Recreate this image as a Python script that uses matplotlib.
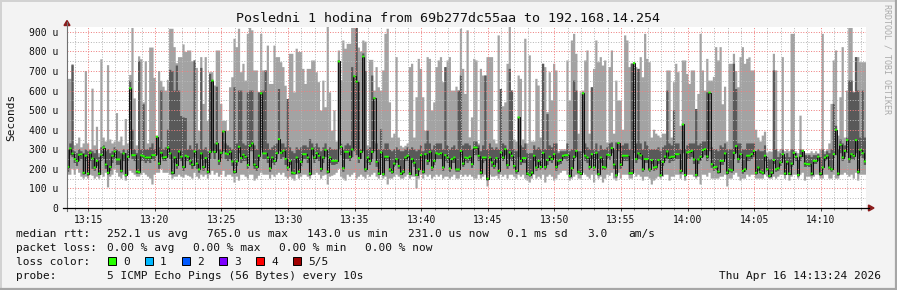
import numpy as np
import matplotlib
matplotlib.use("Agg")
from matplotlib import pyplot as plt
from matplotlib.patches import Polygon, Rectangle
from matplotlib.lines import Line2D

W, H = 897, 290

title = "Posledni 1 hodina from 69b277dc55aa to 192.168.14.254"
start_min = 13 * 60 + 13 + 24 / 60.0   # 13:13:24, first round
step_min = 10 / 60.0                   # 5 pings every 10 s

xtick_min = [795, 800, 805, 810, 815, 820, 825, 830, 835, 840, 845, 850]
xtick_labels = ["13:15", "13:20", "13:25", "13:30", "13:35", "13:40",
                "13:45", "13:50", "13:55", "14:00", "14:05", "14:10"]
ytick_vals = [0, 100, 200, 300, 400, 500, 600, 700, 800, 900]
ytick_labels = ["0", "100 u", "200 u", "300 u", "400 u", "500 u",
                "600 u", "700 u", "800 u", "900 u"]

# rtt per round in microseconds
median_us = [
    210, 304, 278, 250, 241, 272, 275, 180, 267, 176, 282, 253, 207, 241, 176,
    272, 309, 222, 180, 210, 267, 289, 248, 248, 190, 279, 169, 262, 612, 270,
    270, 186, 183, 269, 265, 258, 258, 258, 270, 270, 364, 227, 282, 258, 260,
    309, 279, 181, 258, 219, 289, 262, 210, 267, 262, 241, 222, 289, 227, 197,
    279, 210, 255, 185, 287, 651, 287, 330, 241, 282, 391, 279, 275, 287, 238,
    185, 238, 313, 255, 272, 262, 219, 318, 330, 222, 210, 267, 586, 279, 279,
    258, 202, 258, 241, 280, 352, 282, 292, 251, 207, 241, 181, 178, 258, 186,
    236, 275, 275, 258, 176, 303, 258, 280, 267, 200, 258, 297, 186, 258, 241,
    241, 241, 749, 313, 203, 287, 287, 262, 299, 673, 646, 255, 287, 774, 198,
    258, 241, 287, 561, 236, 176, 284, 173, 262, 262, 198, 185, 227, 250, 215,
    176, 186, 258, 267, 176, 250, 231, 169, 198, 270, 186, 275, 241, 287, 207,
    241, 280, 275, 280, 207, 270, 258, 202, 250, 258, 197, 197, 292, 227, 258,
    255, 262, 224, 309, 309, 267, 181, 258, 258, 150, 258, 233, 215, 255, 190,
    284, 258, 301, 219, 284, 267, 215, 190, 463, 241, 255, 255, 176, 169, 181,
    267, 207, 241, 210, 282, 210, 245, 262, 250, 275, 210, 241, 245, 267, 270,
    270, 164, 203, 262, 292, 185, 176, 586, 267, 258, 210, 275, 207, 282, 173,
    258, 210, 207, 272, 270, 306, 222, 167, 332, 222, 267, 267, 267, 178, 178,
    740, 250, 279, 269, 197, 250, 250, 197, 245, 207, 210, 245, 167, 236, 263,
    289, 258, 262, 262, 275, 275, 190, 427, 169, 284, 287, 292, 248, 169, 248,
    262, 296, 301, 263, 590, 224, 207, 210, 186, 241, 241, 279, 181, 197, 193,
    282, 316, 250, 275, 190, 198, 267, 267, 275, 292, 180, 207, 186, 180, 267,
    198, 164, 181, 245, 198, 203, 233, 275, 176, 236, 176, 227, 282, 262, 169,
    267, 292, 227, 224, 224, 176, 241, 241, 262, 176, 207, 258, 267, 207, 198,
    275, 400, 176, 323, 258, 292, 347, 250, 275, 267, 347, 185, 297, 280, 238,
]
max_us = [
    660, 660, 735, 320, 330, 360, 310, 330, 700, 330, 300, 610, 320, 415, 280,
    760, 360, 340, 730, 350, 330, 340, 485, 340, 365, 320, 455, 330, 680, 920,
    560, 320, 775, 760, 540, 750, 330, 820, 820, 665, 370, 700, 650, 620, 600,
    655, 916, 916, 822, 740, 771, 771, 836, 797, 805, 805, 750, 754, 716, 395,
    771, 532, 771, 445, 694, 694, 626, 805, 805, 532, 445, 445, 395, 617, 668,
    865, 822, 916, 694, 737, 651, 890, 920, 908, 703, 703, 591, 890, 703, 703,
    830, 634, 634, 830, 771, 771, 745, 720, 625, 557, 788, 788, 591, 814, 797,
    797, 711, 634, 711, 711, 754, 754, 694, 643, 498, 651, 515, 925, 591, 395,
    498, 340, 805, 651, 856, 814, 839, 839, 920, 920, 920, 820, 800, 856, 850,
    320, 757, 757, 600, 720, 617, 600, 703, 890, 916, 540, 360, 380, 771, 360,
    318, 310, 318, 330, 720, 737, 360, 566, 762, 711, 566, 395, 771, 762, 498,
    540, 720, 754, 771, 643, 720, 754, 771, 600, 600, 620, 600, 916, 711, 583,
    908, 361, 463, 762, 754, 330, 711, 677, 677, 771, 771, 771, 350, 330, 882,
    608, 520, 540, 737, 925, 600, 350, 340, 677, 660, 350, 865, 330, 780, 340,
    340, 660, 626, 360, 737, 720, 490, 694, 550, 737, 703, 290, 300, 300, 300,
    754, 549, 856, 890, 788, 380, 591, 600, 754, 805, 380, 617, 711, 856, 745,
    771, 728, 754, 335, 720, 805, 380, 651, 549, 549, 400, 882, 856, 720, 740,
    745, 720, 711, 771, 668, 890, 762, 745, 360, 400, 380, 370, 360, 380, 380,
    703, 703, 360, 643, 737, 694, 420, 754, 754, 685, 634, 703, 703, 506, 583,
    890, 703, 600, 762, 651, 651, 670, 822, 754, 822, 530, 620, 340, 737, 737,
    788, 700, 617, 771, 822, 737, 762, 770, 703, 703, 400, 360, 340, 370, 390,
    284, 290, 288, 788, 703, 290, 300, 771, 290, 300, 290, 890, 890, 290, 280,
    472, 300, 280, 280, 280, 290, 280, 290, 280, 300, 890, 290, 300, 330, 532,
    754, 805, 370, 566, 822, 360, 600, 920, 920, 591, 771, 771, 745, 745, 745,
]
# 4th of 5 sorted pings
p4_us = [
    300, 330, 730, 290, 280, 300, 290, 280, 300, 290, 295, 290, 280, 300, 260,
    310, 320, 290, 300, 280, 290, 310, 300, 290, 280, 300, 280, 300, 650, 400,
    300, 280, 750, 300, 530, 300, 300, 310, 330, 300, 365, 310, 600, 300, 310,
    400, 706, 700, 600, 728, 600, 470, 463, 460, 300, 320, 300, 754, 330, 300,
    716, 300, 310, 290, 685, 655, 330, 620, 300, 300, 391, 330, 320, 310, 300,
    617, 330, 600, 600, 330, 320, 590, 600, 600, 320, 300, 591, 600, 600, 703,
    330, 300, 310, 320, 330, 608, 330, 330, 310, 557, 310, 290, 280, 310, 300,
    310, 320, 320, 310, 352, 330, 310, 330, 310, 290, 310, 330, 300, 310, 300,
    300, 300, 754, 330, 300, 320, 330, 320, 720, 677, 920, 650, 300, 790, 700,
    300, 310, 677, 565, 330, 300, 403, 300, 330, 330, 300, 290, 300, 310, 300,
    290, 290, 300, 310, 300, 310, 300, 290, 300, 320, 290, 330, 395, 330, 300,
    320, 330, 330, 330, 300, 720, 320, 300, 310, 320, 300, 600, 677, 320, 330,
    330, 320, 300, 340, 340, 320, 290, 320, 677, 300, 330, 310, 300, 310, 300,
    608, 330, 320, 300, 711, 600, 300, 290, 463, 320, 310, 330, 280, 280, 280,
    320, 300, 310, 300, 737, 300, 480, 320, 310, 330, 330, 280, 290, 290, 290,
    330, 290, 300, 651, 600, 290, 290, 591, 330, 310, 300, 617, 300, 330, 290,
    320, 300, 300, 310, 330, 335, 300, 335, 335, 320, 320, 330, 330, 300, 737,
    740, 330, 711, 330, 300, 340, 320, 300, 300, 300, 300, 310, 290, 310, 320,
    600, 330, 320, 500, 330, 330, 300, 429, 300, 320, 330, 330, 330, 506, 320,
    330, 340, 340, 591, 591, 310, 300, 300, 290, 320, 310, 330, 300, 300, 300,
    737, 608, 330, 330, 300, 300, 330, 330, 330, 330, 290, 300, 290, 290, 320,
    260, 250, 250, 703, 300, 260, 280, 300, 260, 280, 260, 300, 300, 280, 250,
    300, 295, 270, 270, 270, 260, 270, 270, 275, 260, 300, 275, 290, 280, 300,
    532, 420, 300, 350, 330, 320, 360, 651, 651, 591, 771, 600, 360, 600, 360,
]
# 2nd of 5 sorted pings
p2_us = [
    185, 270, 260, 230, 215, 240, 250, 170, 240, 165, 240, 200, 190, 215, 170,
    240, 250, 200, 170, 190, 230, 250, 220, 220, 180, 240, 160, 240, 300, 250,
    240, 175, 175, 240, 240, 230, 240, 230, 250, 240, 270, 200, 260, 240, 240,
    260, 250, 170, 230, 200, 250, 240, 190, 240, 240, 220, 200, 260, 200, 180,
    250, 190, 230, 175, 250, 290, 250, 290, 220, 250, 290, 250, 240, 250, 215,
    175, 215, 280, 230, 240, 240, 200, 290, 290, 200, 190, 240, 300, 250, 250,
    230, 185, 230, 220, 250, 290, 250, 260, 220, 190, 220, 170, 170, 230, 175,
    210, 250, 250, 230, 165, 270, 230, 250, 240, 185, 230, 260, 175, 230, 220,
    220, 225, 300, 270, 185, 250, 250, 240, 260, 290, 270, 230, 250, 290, 185,
    230, 220, 250, 290, 210, 170, 250, 165, 240, 240, 185, 175, 210, 230, 200,
    170, 175, 240, 240, 170, 230, 210, 165, 185, 240, 175, 250, 220, 250, 190,
    220, 250, 250, 250, 190, 240, 230, 185, 230, 230, 185, 185, 260, 210, 240,
    230, 240, 205, 270, 270, 240, 170, 230, 240, 140, 240, 210, 200, 230, 175,
    250, 240, 270, 200, 250, 240, 200, 175, 260, 220, 230, 230, 170, 160, 170,
    240, 190, 220, 195, 250, 195, 220, 240, 230, 250, 190, 220, 225, 250, 250,
    240, 155, 190, 240, 260, 175, 170, 280, 240, 230, 195, 250, 190, 250, 165,
    230, 195, 195, 250, 245, 280, 200, 155, 290, 200, 240, 240, 240, 170, 170,
    280, 230, 250, 245, 185, 230, 230, 185, 225, 190, 195, 225, 160, 215, 240,
    250, 230, 240, 240, 250, 250, 175, 280, 160, 250, 250, 260, 225, 160, 225,
    240, 260, 270, 240, 290, 205, 190, 195, 175, 220, 220, 250, 170, 185, 180,
    250, 280, 230, 250, 175, 185, 240, 240, 250, 260, 170, 190, 175, 170, 240,
    185, 155, 170, 225, 185, 190, 215, 250, 170, 220, 170, 210, 250, 240, 160,
    240, 260, 210, 210, 210, 165, 225, 225, 240, 165, 195, 240, 245, 195, 185,
    250, 270, 165, 280, 240, 260, 280, 230, 250, 245, 280, 175, 265, 255, 220,
]
min_us = [
    170, 170, 200, 170, 200, 180, 160, 150, 160, 150, 170, 165, 150, 160, 150,
    170, 160, 180, 105, 160, 170, 200, 180, 160, 150, 170, 140, 170, 190, 180,
    170, 160, 160, 170, 180, 170, 160, 150, 120, 170, 180, 180, 200, 180, 180,
    180, 170, 150, 160, 160, 170, 160, 155, 170, 165, 160, 150, 180, 160, 150,
    170, 160, 170, 150, 170, 190, 170, 180, 160, 170, 190, 160, 170, 170, 160,
    130, 160, 140, 170, 170, 160, 150, 170, 170, 140, 150, 165, 180, 170, 170,
    170, 150, 170, 160, 170, 180, 170, 180, 160, 150, 160, 150, 140, 170, 150,
    160, 170, 170, 160, 150, 170, 170, 180, 170, 150, 165, 170, 120, 160, 165,
    170, 180, 200, 160, 150, 140, 170, 160, 170, 180, 150, 160, 170, 160, 150,
    170, 160, 170, 180, 160, 150, 170, 150, 160, 120, 150, 150, 160, 170, 160,
    150, 150, 160, 170, 150, 160, 160, 100, 150, 170, 150, 170, 160, 170, 150,
    160, 170, 160, 170, 150, 160, 160, 150, 160, 170, 150, 150, 170, 160, 170,
    160, 170, 160, 150, 150, 170, 150, 160, 170, 110, 170, 160, 160, 165, 150,
    170, 160, 170, 150, 170, 170, 160, 150, 170, 160, 170, 150, 140, 130, 150,
    170, 150, 160, 150, 170, 130, 160, 170, 160, 140, 150, 170, 180, 190, 190,
    170, 140, 150, 160, 170, 150, 150, 180, 170, 160, 150, 170, 130, 170, 150,
    160, 130, 150, 170, 165, 180, 150, 140, 180, 150, 170, 170, 170, 150, 150,
    180, 160, 170, 160, 140, 160, 160, 150, 120, 140, 150, 160, 150, 160, 170,
    170, 140, 160, 160, 170, 170, 150, 170, 140, 170, 170, 170, 160, 150, 160,
    120, 170, 170, 160, 180, 150, 150, 150, 150, 160, 160, 170, 110, 150, 150,
    170, 180, 160, 140, 150, 150, 170, 160, 170, 170, 150, 150, 150, 150, 170,
    160, 150, 150, 160, 150, 160, 170, 170, 150, 170, 140, 160, 170, 170, 150,
    170, 180, 140, 160, 160, 150, 160, 170, 170, 150, 150, 170, 170, 150, 150,
    170, 150, 150, 170, 170, 180, 170, 160, 170, 150, 180, 140, 170, 170, 170,
]

loss_labels = ["0", "1", "2", "3", "4", "5/5"]
loss_colors = ["#26ff00", "#00b8ff", "#0059ff", "#7e00ff", "#ff0000", "#a00000"]

MONO = "DejaVu Sans Mono"


def fx(x):
    return x / W


def fy(y):
    return 1 - y / H


fig = plt.figure(figsize=(W / 100, H / 100), dpi=100, facecolor="#f3f3f3")
ax = fig.add_axes([fx(67), fy(208), (866 - 67) / W, (208 - 27) / H])
ax.set_facecolor("white")

n = len(median_us)
edges = start_min + step_min * np.arange(n + 1)
med = np.array(median_us, dtype=float)

# smoke: light = min..max, dark = 2nd..4th ping
ax.stairs(max_us, edges, baseline=min_us, fill=True, color="#a3a3a3", lw=0, zorder=1)
ax.stairs(p4_us, edges, baseline=p2_us, fill=True, color="#595959", lw=0, zorder=1.1)

# median line + loss colour marks
ax.stairs(med, edges, baseline=None, color="#111111", lw=0.75, zorder=3)
ax.stairs(med + 5, edges, baseline=med - 5, fill=True, color=loss_colors[0], lw=0, zorder=3.1)

ax.set_xlim(edges[0], edges[-1])
ax.set_ylim(0, 925)

ax.set_xticks(xtick_min)
ax.set_xticklabels(xtick_labels)
ax.set_xticks(np.arange(794, 854, 1), minor=True)
ax.set_yticks(ytick_vals)
ax.set_yticklabels(ytick_labels)
ax.set_yticks(np.arange(50, 925, 100), minor=True)

ax.set_axisbelow(False)
ax.grid(True, which="major", color="#ee8080", lw=0.72, linestyle=(0, (1, 1.6)), zorder=2.5)
ax.grid(True, which="minor", color="#b8b8b8", lw=0.72, linestyle=(0, (1, 1.6)), zorder=2.4)

for lab in ax.get_xticklabels() + ax.get_yticklabels():
    lab.set_fontfamily(MONO)
    lab.set_fontsize(7)
    lab.set_color("#111111")
ax.tick_params(axis="x", which="major", length=2.5, width=0.7, color="#444444", pad=2.5)
ax.tick_params(axis="x", which="minor", length=1.5, width=0.7, color="#888888")
ax.tick_params(axis="y", which="both", length=0, pad=6.5)

for s in ax.spines.values():
    s.set_visible(False)

# axes with arrow heads, drawn like rrdtool does
fig.add_artist(Line2D([fx(67), fx(67)], [fy(22), fy(211)], color="#707070", lw=0.8))
fig.add_artist(Line2D([fx(63), fx(869)], [fy(208), fy(208)], color="black", lw=0.9))
fig.add_artist(Polygon([(fx(67), fy(20.5)), (fx(64), fy(25.5)), (fx(70), fy(25.5))],
                       closed=True, color="#8b1c1c", transform=fig.transFigure))
fig.add_artist(Polygon([(fx(874), fy(208)), (fx(868.5), fy(205)), (fx(868.5), fy(211))],
                       closed=True, color="#8b1c1c", transform=fig.transFigure))

# title and side texts
fig.text(fx(448), fy(19), title, ha="center", va="center", fontsize=9.6,
         family=MONO, color="#111111")
fig.text(fx(11), fy(117), "Seconds", rotation=90, ha="center", va="center",
         fontsize=8, family=MONO, color="#111111")
fig.text(fx(887), fy(4), "RRDTOOL / TOBI OETIKER", rotation=270, ha="center",
         va="top", fontsize=6, family=MONO, color="#aaaaaa")

# legend
legend_rows = [
    (237, [(16, "median rtt:"), (107, "252.1 us avg"), (207, "765.0 us max"),
           (307, "143.0 us min"), (408, "231.0 us now"), (507, "0.1 ms sd"),
           (587, "3.0"), (628, "am/s")]),
    (251, [(16, "packet loss:"), (107, "0.00 % avg"), (193, "0.00 % max"),
           (279, "0.00 % min"), (365, "0.00 % now")]),
    (265, [(16, "loss color:")]),
    (279, [(16, "probe:"), (107, "5 ICMP Echo Pings (56 Bytes) every 10s")]),
]
for base, items in legend_rows:
    for x, txt in items:
        fig.text(fx(x), fy(base), txt, ha="left", va="baseline", fontsize=8,
                 family=MONO, color="#111111")

box_x = [108, 145, 182, 219, 256, 293]
for bx, lab, col in zip(box_x, loss_labels, loss_colors):
    fig.add_artist(Rectangle((fx(bx), fy(265)), 8 / W, 8 / H, transform=fig.transFigure,
                             facecolor=col, edgecolor="black", lw=0.7))
    fig.text(fx(bx + 15), fy(265), lab, ha="left", va="baseline", fontsize=8,
             family=MONO, color="#111111")

fig.text(fx(881), fy(279), "Thu Apr 16 14:13:24 2026", ha="right", va="baseline",
         fontsize=8, family=MONO, color="#111111")

# image frame
fig.add_artist(Line2D([0, 1], [fy(0.5), fy(0.5)], color="#d2d2d2", lw=1.4))
fig.add_artist(Line2D([fx(0.5), fx(0.5)], [0, 1], color="#d2d2d2", lw=1.4))
fig.add_artist(Line2D([0, 1], [fy(289), fy(289)], color="#a6a6a6", lw=1.6))
fig.add_artist(Line2D([fx(896), fx(896)], [0, 1], color="#a6a6a6", lw=1.6))

fig.savefig("out.png", dpi=100, facecolor=fig.get_facecolor())
